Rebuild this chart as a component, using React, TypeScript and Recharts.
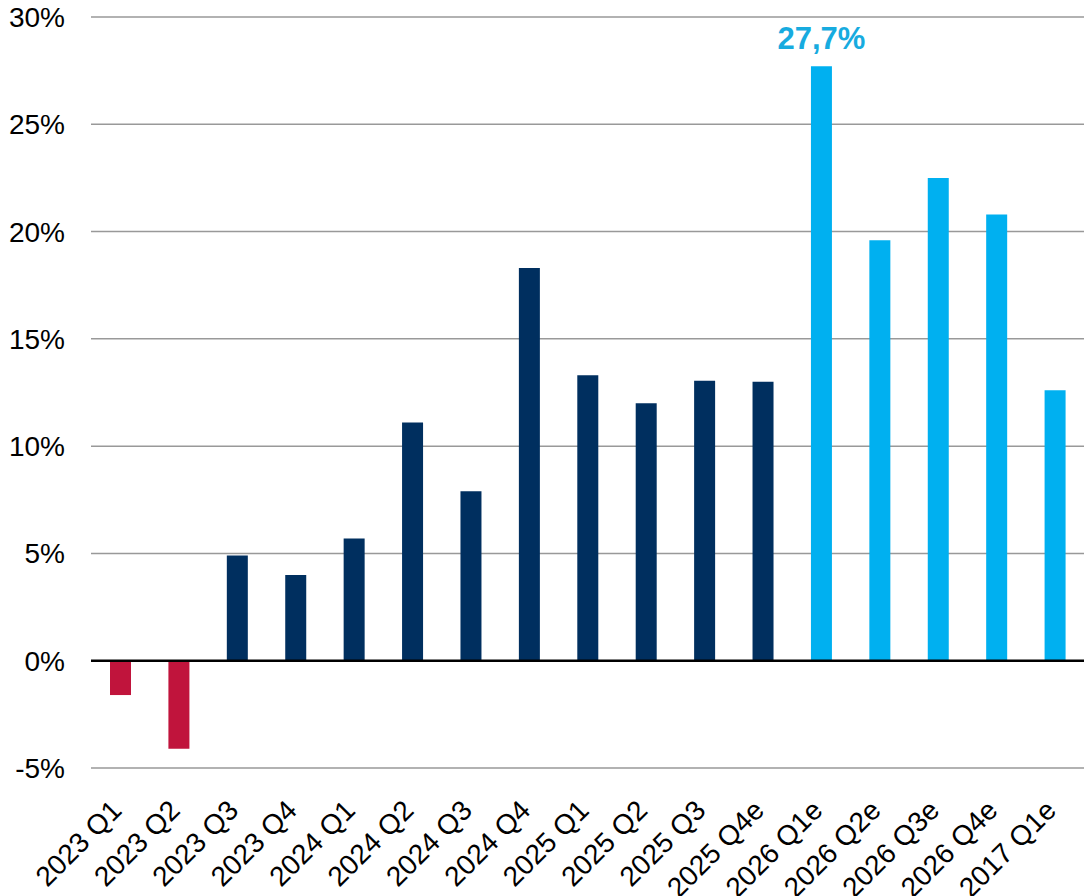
import { Bar, BarChart, CartesianGrid, Cell, LabelList, ReferenceLine, XAxis, YAxis } from 'recharts';

const quarters = [
  '2023 Q1', '2023 Q2', '2023 Q3', '2023 Q4',
  '2024 Q1', '2024 Q2', '2024 Q3', '2024 Q4',
  '2025 Q1', '2025 Q2', '2025 Q3', '2025 Q4e',
  '2026 Q1e', '2026 Q2e', '2026 Q3e', '2026 Q4e', '2017 Q1e',
];

// growth in %
const growth = [-1.6, -4.1, 4.9, 4.0, 5.7, 11.1, 7.9, 18.3, 13.3, 12.0, 13.05, 13.0, 27.7, 19.6, 22.5, 20.8, 12.6];

// 'neg' = negative actuals, 'act' = actuals, 'est' = estimates
const kind = ['neg', 'neg', 'act', 'act', 'act', 'act', 'act', 'act', 'act', 'act', 'act', 'act', 'est', 'est', 'est', 'est', 'est'];

const yTicks = [-5, 0, 5, 10, 15, 20, 25, 30];

// only the peak gets a call-out
const highlight = '2026 Q1e';

const COLORS: Record<string, string> = { neg: '#C0143C', act: '#002F5F', est: '#00B0F0' };
const FONT = 'Arial, "Liberation Sans", sans-serif';

const data = quarters.map((q, i) => ({ q, v: growth[i], kind: kind[i] }));

function XTick({ x, y, payload }: any) {
  const ax = x + 3;
  const ay = y + 36;
  return (
    <text
      x={ax}
      y={ay}
      transform={`rotate(-45, ${ax}, ${ay})`}
      textAnchor="end"
      fontSize={28}
      fontFamily={FONT}
      fill="#000"
    >
      {payload.value}
    </text>
  );
}

function YTick({ x, y, payload }: any) {
  return (
    <text x={x} y={y} dy={10} textAnchor="end" fontSize={28} fontFamily={FONT} fill="#000">
      {`${payload.value}%`}
    </text>
  );
}

function PeakLabel({ x, y, width, value, index }: any) {
  if (quarters[index] !== highlight) return null;
  return (
    <text
      x={x + width / 2}
      y={y - 17}
      textAnchor="middle"
      fontSize={31}
      fontWeight="bold"
      fontFamily={FONT}
      fill="#17ABDF"
    >
      {String(value).replace('.', ',')}%
    </text>
  );
}

export default function App() {
  return (
    <div style={{ position: 'absolute', left: 0, top: 0 }}>
      <BarChart
        width={1084}
        height={896}
        data={data}
        margin={{ top: 17, right: 0, bottom: 0, left: 0 }}
        barSize={21}
      >
        <CartesianGrid vertical={false} stroke="#999" strokeWidth={1.5} />
        <XAxis
          dataKey="q"
          interval={0}
          height={128}
          tickLine={false}
          axisLine={false}
          tick={<XTick />}
        />
        <YAxis
          domain={[-5, 30]}
          ticks={yTicks}
          width={91}
          tickLine={false}
          axisLine={false}
          tickSize={0}
          tickMargin={26}
          tick={<YTick />}
        />
        <Bar dataKey="v" isAnimationActive={false}>
          {data.map((d) => (
            <Cell key={d.q} fill={COLORS[d.kind]} />
          ))}
          <LabelList dataKey="v" content={<PeakLabel />} />
        </Bar>
        <ReferenceLine y={0} stroke="#000" strokeWidth={2.5} />
      </BarChart>
    </div>
  );
}
